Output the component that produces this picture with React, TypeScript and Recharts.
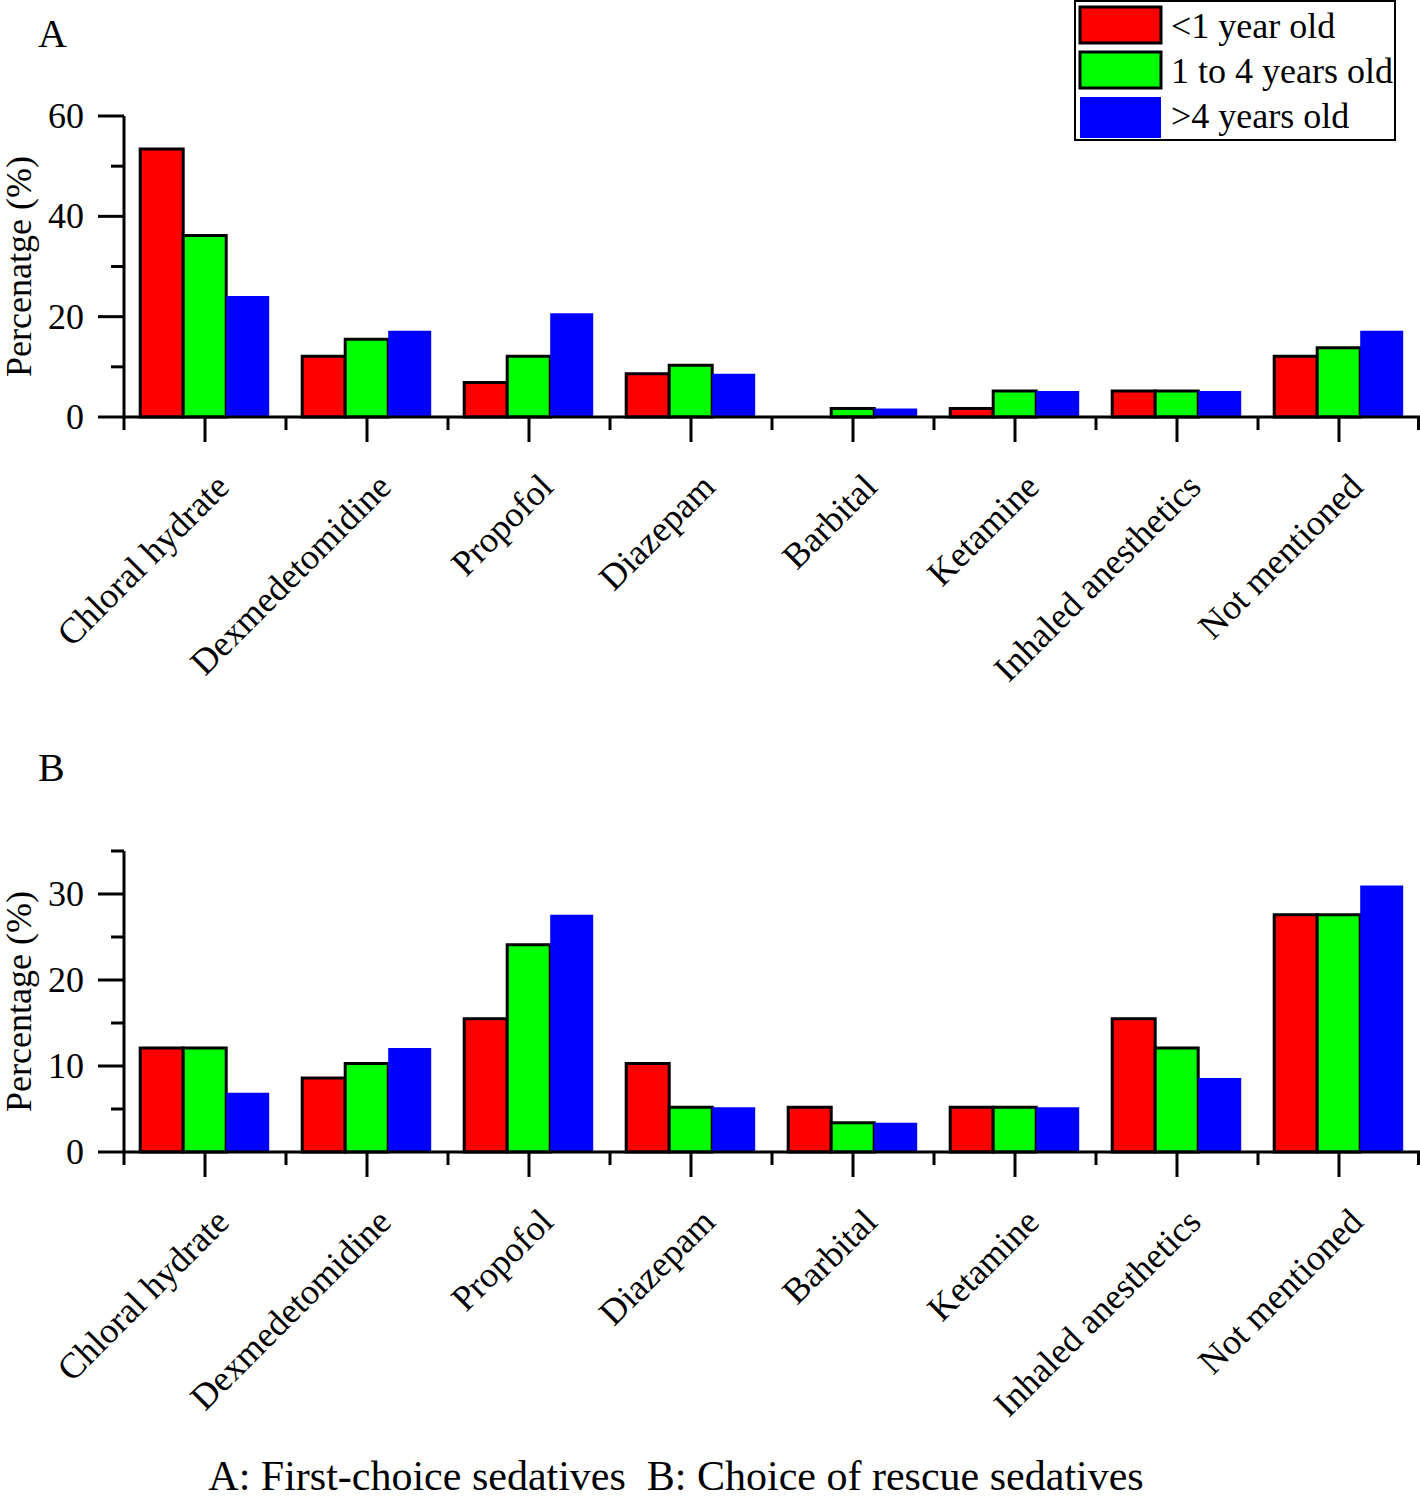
import { Bar, BarChart, XAxis, YAxis } from "recharts";

const categories = [
    "Chloral hydrate",
    "Dexmedetomidine",
    "Propofol",
    "Diazepam",
    "Barbital",
    "Ketamine",
    "Inhaled anesthetics",
    "Not mentioned",
];

// A: first-choice sedatives (%)
const firstUnder1 = [53.4, 12.1, 6.9, 8.6, 0, 1.7, 5.2, 12.1];
const first1to4 = [36.2, 15.5, 12.1, 10.3, 1.7, 5.2, 5.2, 13.8];
const firstOver4 = [24.1, 17.2, 20.7, 8.6, 1.7, 5.2, 5.2, 17.2];

// B: rescue sedatives (%)
const rescueUnder1 = [12.1, 8.6, 15.5, 10.3, 5.2, 5.2, 15.5, 27.6];
const rescue1to4 = [12.1, 10.3, 24.1, 5.2, 3.4, 5.2, 12.1, 27.6];
const rescueOver4 = [6.9, 12.1, 27.6, 5.2, 3.4, 5.2, 8.6, 31.0];

const ticksA = [0, 10, 20, 30, 40, 50, 60];
const ticksB = [0, 5, 10, 15, 20, 25, 30, 35];

const seriesNames = ["<1 year old", "1 to 4 years old", ">4 years old"];
const seriesColors = ["#ff0000", "#00ff00", "#0000ff"];

const FONT = "'Liberation Serif', 'Times New Roman', serif";
const W = 1420;
const H = 720;
const Y_AXIS_W = 124;
const BAND = (W - Y_AXIS_W) / categories.length;

function buildRows(a: number[], b: number[], c: number[]) {
    return categories.map((name, i) => ({ name, s0: a[i], s1: b[i], s2: c[i] }));
}

const dataA = buildRows(firstUnder1, first1to4, firstOver4);
const dataB = buildRows(rescueUnder1, rescue1to4, rescueOver4);

function makeYTick(majorStep: number) {
    return (props: any) => {
        const { x, y, payload } = props;
        const major = payload.value % majorStep === 0;
        return (
            <g>
                <line x1={x - (major ? 26 : 13)} x2={x} y1={y} y2={y} stroke="#000" strokeWidth={3} />
                {major && (
                    <text x={x - 40} y={y + 12} textAnchor="end" fontSize={36} fontFamily={FONT} fill="#000">
                        {payload.value}
                    </text>
                )}
            </g>
        );
    };
}

function XTick(props: any) {
    const { x, y, payload, index } = props;
    const last = index === categories.length - 1;
    return (
        <g>
            <line x1={x} x2={x} y1={y} y2={y + 25} stroke="#000" strokeWidth={3} />
            <line x1={x - BAND / 2} x2={x - BAND / 2} y1={y} y2={y + 13} stroke="#000" strokeWidth={3} />
            {last && (
                <line x1={x + BAND / 2 - 1.5} x2={x + BAND / 2 - 1.5} y1={y} y2={y + 13} stroke="#000" strokeWidth={3} />
            )}
            <text
                x={x + 26}
                y={y + 72}
                textAnchor="end"
                transform={`rotate(-45 ${x + 26} ${y + 72})`}
                fontSize={36}
                fontFamily={FONT}
                fill="#000"
            >
                {payload.value}
            </text>
        </g>
    );
}

function LegendBox() {
    return (
        <svg width={324} height={143} style={{ display: "block" }}>
            <rect x={1} y={1} width={320} height={139} fill="#fff" stroke="#000" strokeWidth={2} />
            {seriesNames.map((name, i) => (
                <g key={name}>
                    <rect
                        x={6}
                        y={7 + i * 45}
                        width={81}
                        height={i === 2 ? 41 : 36}
                        fill={seriesColors[i]}
                        stroke={i === 2 ? "none" : "#000"}
                        strokeWidth={3}
                    />
                    <text x={97} y={38 + i * 45} fontSize={36} fontFamily={FONT} fill="#000">
                        {name}
                    </text>
                </g>
            ))}
        </svg>
    );
}

function YLabel(text: string) {
    return (props: any) => {
        const vb = props.viewBox;
        const cy = vb.y + vb.height / 2;
        return (
            <text
                x={31}
                y={cy}
                textAnchor="middle"
                transform={`rotate(-90 31 ${cy})`}
                fontSize={36}
                fontFamily={FONT}
                fill="#000"
            >
                {text}
            </text>
        );
    };
}

function Panel({
    data,
    max,
    ticks,
    majorStep,
    yLabel,
}: {
    data: any[];
    max: number;
    ticks: number[];
    majorStep: number;
    yLabel: string;
}) {
    return (
        <BarChart
            width={W}
            height={H}
            data={data}
            margin={{ top: 116, right: 0, bottom: 0, left: 0 }}
            barCategoryGap="10%"
            barGap={0}
        >
            <XAxis
                dataKey="name"
                interval={0}
                height={H - 116 - 301}
                tickSize={0}
                tickMargin={0}
                tickLine={false}
                axisLine={{ stroke: "#000", strokeWidth: 3 }}
                tick={XTick}
            />
            <YAxis
                width={Y_AXIS_W}
                domain={[0, max]}
                ticks={ticks}
                interval={0}
                tickSize={0}
                tickMargin={0}
                tickLine={false}
                axisLine={{ stroke: "#000", strokeWidth: 3 }}
                tick={makeYTick(majorStep)}
                label={{ content: YLabel(yLabel) }}
            />
            <Bar dataKey="s0" name={seriesNames[0]} fill={seriesColors[0]} stroke="#000" strokeWidth={3} isAnimationActive={false} />
            <Bar dataKey="s1" name={seriesNames[1]} fill={seriesColors[1]} stroke="#000" strokeWidth={3} isAnimationActive={false} />
            <Bar dataKey="s2" name={seriesNames[2]} fill={seriesColors[2]} isAnimationActive={false} />
        </BarChart>
    );
}

export default function App() {
    return (
        <div
            style={{
                position: "absolute",
                left: 0,
                top: 0,
                width: 1420,
                height: 1501,
                background: "#fff",
                fontFamily: FONT,
                overflow: "hidden",
            }}
        >
            <div style={{ position: "absolute", left: 0, top: 0 }}>
                <Panel data={dataA} max={60} ticks={ticksA} majorStep={20} yLabel="Percenatge (%)" />
            </div>
            <div style={{ position: "absolute", left: 0, top: 735 }}>
                <Panel data={dataB} max={35} ticks={ticksB} majorStep={10} yLabel="Percentage (%)" />
            </div>
            <div style={{ position: "absolute", left: 1074, top: 0 }}>
                <LegendBox />
            </div>
            <div style={{ position: "absolute", left: 38, top: 12, fontSize: 40, lineHeight: "44px" }}>A</div>
            <div style={{ position: "absolute", left: 38, top: 746, fontSize: 40, lineHeight: "44px" }}>B</div>
            <svg width={1420} height={60} style={{ position: "absolute", left: 0, top: 1441 }}>
                <text x={676} y={49} textAnchor="middle" fontSize={42} fontFamily={FONT} fill="#000" xmlSpace="preserve">
                    {"A: First-choice sedatives  B: Choice of rescue sedatives"}
                </text>
            </svg>
        </div>
    );
}
